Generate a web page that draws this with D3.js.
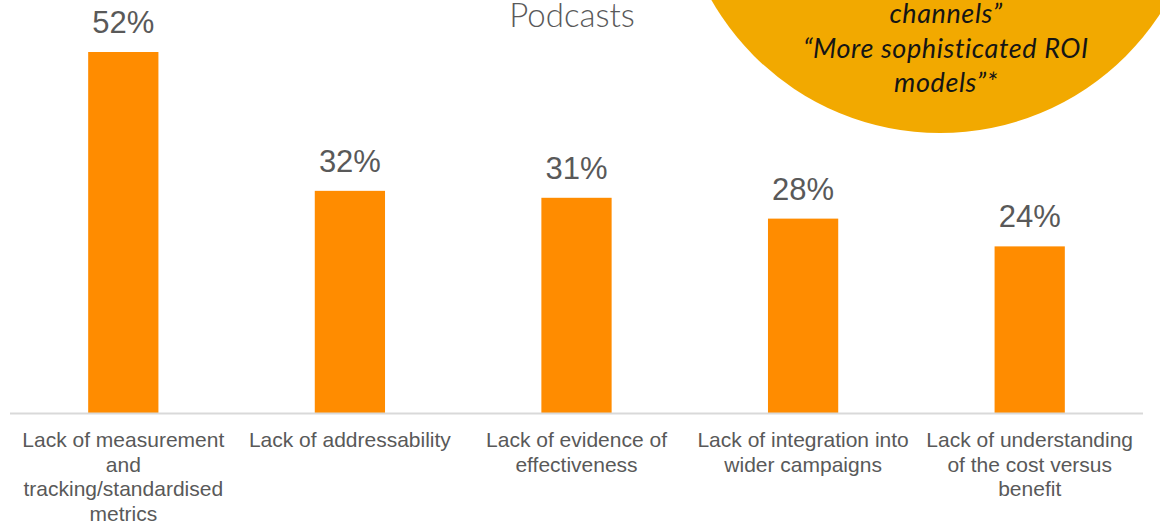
<!DOCTYPE html>
<html><head><meta charset="utf-8">
<script src="https://cdn.jsdelivr.net/npm/d3@7"></script>
<style>body{margin:0;background:#fff;}svg{display:block;}</style>
</head><body>
<svg id="c" width="1160" height="523"></svg>
<script>
const categories = [
  ["Lack of measurement", "and", "tracking/standardised", "metrics"],
  ["Lack of addressability"],
  ["Lack of evidence of", "effectiveness"],
  ["Lack of integration into", "wider campaigns"],
  ["Lack of understanding", "of the cost versus", "benefit"]
];
const values = [52, 32, 31, 28, 24];
const title = "Podcasts";
const calloutLines = ["channels\u201D", "\u201CMore sophisticated ROI", "models\u201D*"];

const svg = d3.select("#c");
const x = d3.scaleBand().domain(d3.range(values.length)).range([10, 1143]).paddingInner(0.69).paddingOuter(0.345);
const y = d3.scaleLinear().domain([0, 52]).range([413, 52]);

// callout circle
svg.append("circle").attr("cx", 940).attr("cy", -130).attr("r", 263).attr("fill", "#F2A900");
svg.selectAll("text.call").data(calloutLines).join("text")
  .attr("x", 946).attr("y", (d, i) => [23, 58, 92][i])
  .attr("text-anchor", "middle")
  .attr("font-family", "Lato, 'Open Sans', sans-serif").attr("font-style", "italic")
  .attr("font-size", 27).attr("letter-spacing", 0.6).attr("fill", "#151515").text(d => d);

// title
svg.append("text").attr("x", 572).attr("y", 27).attr("text-anchor", "middle")
  .attr("font-family", "Lato, sans-serif").attr("font-weight", 300)
  .attr("font-size", 33).attr("fill", "#595959").text(title);

// bars
svg.selectAll("rect.bar").data(values).join("rect")
  .attr("x", (d, i) => x(i)).attr("width", x.bandwidth())
  .attr("y", d => y(d)).attr("height", d => y(0) - y(d))
  .attr("fill", "#FF8C00");

// axis
svg.append("line").attr("x1", 10).attr("x2", 1143).attr("y1", 413.5).attr("y2", 413.5)
  .attr("stroke", "#D9D9D9").attr("stroke-width", 2);

// value labels
svg.selectAll("text.val").data(values).join("text")
  .attr("x", (d, i) => x(i) + x.bandwidth() / 2).attr("y", d => y(d) - 19)
  .attr("text-anchor", "middle").attr("font-family", "Arial, 'Liberation Sans', sans-serif")
  .attr("font-size", 31).attr("fill", "#595959").text(d => d + "%");

// category labels
const cg = svg.selectAll("g.cat").data(categories).join("g")
  .attr("transform", (d, i) => `translate(${x(i) + x.bandwidth() / 2},0)`);
cg.selectAll("text").data(d => d).join("text")
  .attr("x", 0).attr("y", (d, i) => 447 + i * 24.5)
  .attr("text-anchor", "middle").attr("font-family", "Arial, 'Liberation Sans', sans-serif")
  .attr("font-size", 21).attr("fill", "#595959").text(d => d);
</script>
</body></html>
